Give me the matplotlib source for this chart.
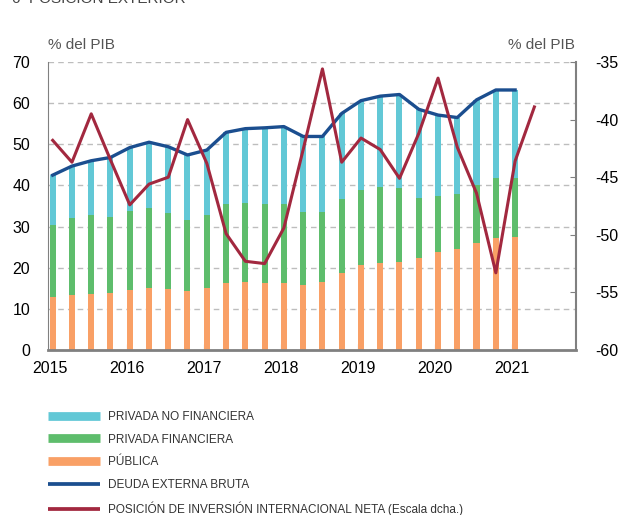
import numpy as np
import matplotlib
matplotlib.use('Agg')
import matplotlib.pyplot as plt
from matplotlib.lines import Line2D

plt.rcParams['font.family'] = ['Liberation Sans', 'DejaVu Sans']
plt.rcParams['axes.unicode_minus'] = False

# quarterly data, 2015 Q1 - 2021 Q1 (bars), PIIN up to 2021 Q2
years = [2015, 2016, 2017, 2018, 2019, 2020, 2021]
publica = [12.8, 13.3, 13.5, 13.9, 14.7, 15.0, 14.8, 14.3, 15.1, 16.4, 16.5, 16.3, 16.4,
           15.8, 16.6, 18.8, 20.7, 21.1, 21.4, 22.3, 23.7, 24.5, 26.0, 27.3, 27.5]
privada_fin = [30.5, 32.0, 32.7, 32.3, 33.9, 34.4, 33.3, 31.7, 32.8, 35.5, 35.7, 35.5, 35.5,
               33.6, 33.6, 36.8, 39.0, 39.5, 39.3, 37.0, 37.5, 37.9, 40.1, 41.9, 41.9]
deuda_bruta = [42.5, 44.7, 46.0, 46.8, 49.2, 50.5, 49.4, 47.4, 48.6, 52.9, 53.8, 54.0, 54.3,
               51.9, 51.9, 57.5, 60.6, 61.7, 62.1, 58.5, 57.1, 56.5, 60.8, 63.2, 63.2]
piin = [-41.8, -43.7, -39.5, -43.5, -47.4, -45.6, -45.0, -40.0, -43.8, -49.9, -52.3, -52.5, -49.4,
        -42.6, -35.6, -43.7, -41.6, -42.6, -45.1, -41.2, -36.4, -42.4, -46.4, -53.3, -43.6, -38.9]
# privada_fin / deuda_bruta above are cumulative tops of the stacks
privada_nofin = [round(t - f, 1) for t, f in zip(deuda_bruta, privada_fin)]
fin_part = [round(f - p, 1) for f, p in zip(privada_fin, publica)]

c_nofin = '#62C8D6'
c_fin = '#5EBD6C'
c_pub = '#F9A066'
c_deuda = '#1B4E8F'
c_piin = '#A2283F'
grey = '#808080'

n = len(deuda_bruta)
x_bar = 2015 + np.arange(n) * 0.25
x_mid = x_bar + 0.04
x_piin = 2015 + np.arange(len(piin)) * 0.25 + 0.04
w = 0.078

fig = plt.figure(figsize=(6.21, 5.15), dpi=100)
ax = fig.add_axes([48.3 / 621, 1 - 350 / 515, (576 - 48.3) / 621, (350 - 62) / 515])

ax.bar(x_bar, publica, width=w, align='edge', color=c_pub, zorder=2)
ax.bar(x_bar, fin_part, bottom=publica, width=w, align='edge', color=c_fin, zorder=2)
ax.bar(x_bar, privada_nofin, bottom=privada_fin, width=w, align='edge', color=c_nofin, zorder=2)
ax.plot(x_mid, deuda_bruta, color=c_deuda, lw=2.4, zorder=3, solid_joinstyle='round')

ax.set_xlim(2014.983, 2021.83)
ax.set_ylim(0, 70)
ax.set_yticks(range(0, 71, 10))
ax.set_xticks(years)
ax.set_xticklabels([str(y) for y in years])
ax.yaxis.grid(True, ls=(0, (4, 3)), color='#BDBDBD', lw=1)
ax.set_axisbelow(True)
ax.tick_params(axis='y', length=0, pad=13, labelsize=11.5, labelcolor='black')
ax.tick_params(axis='x', direction='in', length=4, color=grey, pad=8, labelsize=11.5)
for s in ['top', 'right']:
    ax.spines[s].set_visible(False)
ax.spines['left'].set_color(grey)
ax.spines['bottom'].set_color(grey)
ax.spines['bottom'].set_linewidth(2)

ax2 = ax.twinx()
ax2.plot(x_piin, piin, color=c_piin, lw=2.2, zorder=4)
ax2.set_ylim(-60, -35)
ax2.set_yticks(range(-60, -34, 5))
ax2.tick_params(axis='y', direction='in', length=4, color=grey, pad=14, labelsize=11.5)
for s in ['top', 'left', 'bottom']:
    ax2.spines[s].set_visible(False)
ax2.spines['right'].set_color(grey)
ax2.spines['right'].set_linewidth(1.5)

fig.text(48 / 621, 1 - 45 / 515, '% del PIB', fontsize=11, color='#555555', va='center', ha='left')
fig.text(575 / 621, 1 - 45 / 515, '% del PIB', fontsize=11, color='#555555', va='center', ha='right')
fig.text(12 / 621, 1 - 3 / 515, '6  POSICIÓN EXTERIOR', fontsize=11, color='#444444',
         va='baseline', ha='left')

handles = [Line2D([], [], color=c_nofin, lw=6.3, solid_capstyle='butt'),
           Line2D([], [], color=c_fin, lw=6.3, solid_capstyle='butt'),
           Line2D([], [], color=c_pub, lw=6.3, solid_capstyle='butt'),
           Line2D([], [], color=c_deuda, lw=2.7, solid_capstyle='butt'),
           Line2D([], [], color=c_piin, lw=2.7, solid_capstyle='butt')]
labels = ['PRIVADA NO FINANCIERA', 'PRIVADA FINANCIERA', 'PÚBLICA', 'DEUDA EXTERNA BRUTA',
          'POSICIÓN DE INVERSIÓN INTERNACIONAL NETA (Escala dcha.)']
leg = fig.legend(handles, labels, loc='upper left', bbox_to_anchor=(48 / 621, 1 - 411 / 515),
                 frameon=False, handlelength=4.4, handletextpad=0.68,
                 labelspacing=0.9, borderpad=0, borderaxespad=0,
                 prop={'family': 'Liberation Sans', 'size': 8.5})
for t in leg.get_texts():
    t.set_color('#333333')

fig.savefig('out.png', dpi=100)
